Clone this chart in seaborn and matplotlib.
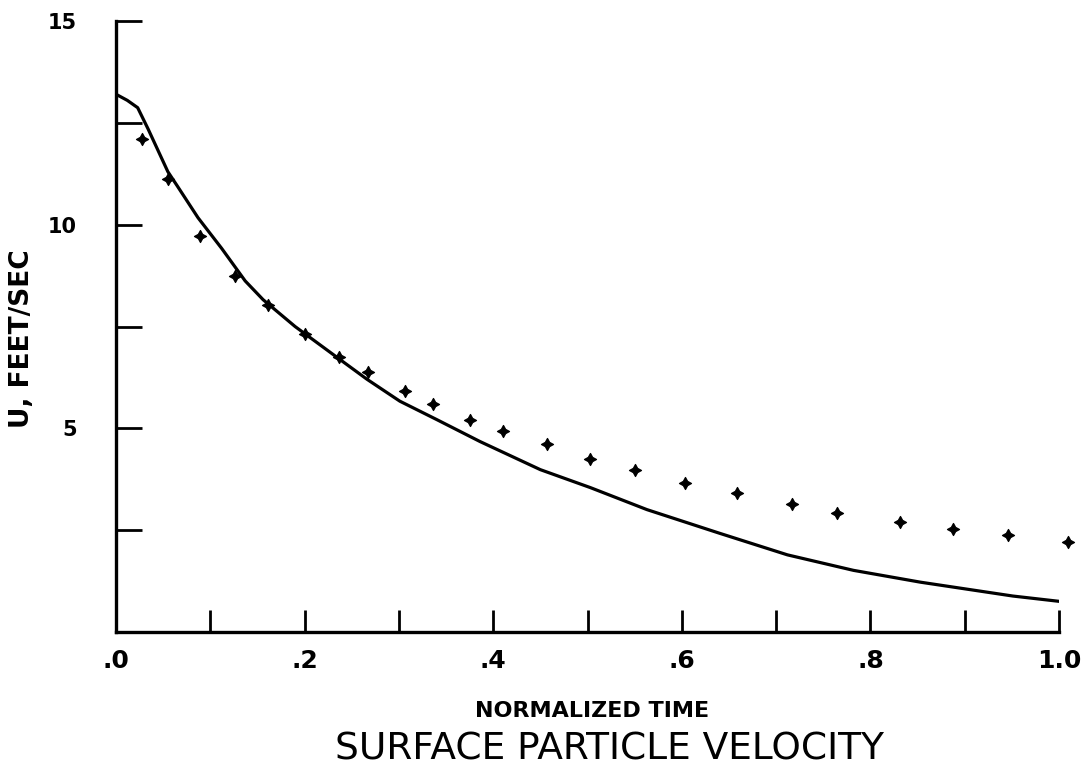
import matplotlib
matplotlib.use("Agg")
import matplotlib.pyplot as plt
import seaborn as sns
import pandas as pd
from matplotlib.ticker import MultipleLocator, FixedLocator

# Computed surface particle velocity (solid curve)
curve_t = [0.0, 0.012, 0.023, 0.034, 0.045, 0.055, 0.065, 0.087, 0.112, 0.137,
           0.156, 0.190, 0.230, 0.266, 0.301, 0.340, 0.386, 0.450, 0.503, 0.563,
           0.640, 0.712, 0.782, 0.853, 0.951, 1.0]
curve_u = [13.20, 13.05, 12.87, 12.35, 11.80, 11.30, 10.95, 10.17, 9.42, 8.62,
           8.16, 7.50, 6.82, 6.21, 5.67, 5.22, 4.68, 3.99, 3.55, 3.01,
           2.43, 1.90, 1.52, 1.23, 0.89, 0.76]

# Measured surface particle velocity (point symbols)
meas_t = [0.028, 0.055, 0.089, 0.126, 0.161, 0.200, 0.237, 0.267, 0.306, 0.336,
          0.375, 0.410, 0.457, 0.503, 0.550, 0.603, 0.659, 0.717, 0.765, 0.831,
          0.888, 0.946, 1.010]
meas_u = [12.11, 11.13, 9.73, 8.75, 8.02, 7.31, 6.75, 6.38, 5.91, 5.59,
          5.22, 4.93, 4.61, 4.26, 3.97, 3.67, 3.42, 3.15, 2.93, 2.71,
          2.54, 2.39, 2.22]

x_major = [0.0, 0.2, 0.4, 0.6, 0.8, 1.0]
x_major_labels = [".0", ".2", ".4", ".6", ".8", "1.0"]
y_major = [5, 10, 15]
y_major_labels = ["5", "10", "15"]

sns.set_style("ticks")
plt.rcParams["font.family"] = ["DejaVu Sans"]
plt.rcParams["text.color"] = "black"
plt.rcParams["axes.labelcolor"] = "black"
plt.rcParams["xtick.color"] = "black"
plt.rcParams["ytick.color"] = "black"

fig = plt.figure(figsize=(10.84, 7.73), dpi=100)
ax = fig.add_axes([0.107, 0.182, 0.870, 0.791])

curve_df = pd.DataFrame({"t": curve_t, "u": curve_u})
meas_df = pd.DataFrame({"t": meas_t, "u": meas_u})

sns.lineplot(data=curve_df, x="t", y="u", ax=ax, color="black", linewidth=2.3,
             sort=False, estimator=None)
sns.scatterplot(data=meas_df, x="t", y="u", ax=ax, color="black",
                marker=(4, 1, 0), s=75, linewidth=0.9, edgecolor="black",
                clip_on=False, zorder=3)

ax.set_xlim(0, 1.0)
ax.set_ylim(0, 15)

sns.despine(ax=ax, top=True, right=True)
for side in ("left", "bottom"):
    ax.spines[side].set_linewidth(2.4)
    ax.spines[side].set_color("black")

# Minor ticks every 0.1 / 2.5 units, labels only on the majors
ax.xaxis.set_major_locator(FixedLocator(x_major))
ax.xaxis.set_minor_locator(MultipleLocator(0.1))
ax.set_xticklabels(x_major_labels)
ax.yaxis.set_major_locator(FixedLocator(y_major))
ax.yaxis.set_minor_locator(MultipleLocator(2.5))
ax.set_yticklabels(y_major_labels)

ax.tick_params(axis="x", which="both", direction="in", length=16, width=2.0,
               pad=12, labelsize=18, colors="black")
ax.tick_params(axis="y", which="both", direction="in", length=19, width=2.0,
               pad=28, labelsize=15, colors="black")
for lbl in ax.get_xticklabels() + ax.get_yticklabels():
    lbl.set_fontweight("bold")

ax.set_xlabel("")
ax.set_ylabel("U, FEET/SEC", fontsize=19, fontweight="bold")
ax.yaxis.set_label_coords(-0.086, 0.481)

fig.text(0.546, 0.080, "NORMALIZED TIME", ha="center", va="center",
         fontsize=16, fontweight="bold")
fig.text(0.562, 0.030, "SURFACE PARTICLE VELOCITY", ha="center", va="center",
         fontsize=27)

fig.savefig("out.png", dpi=100, facecolor="white")
